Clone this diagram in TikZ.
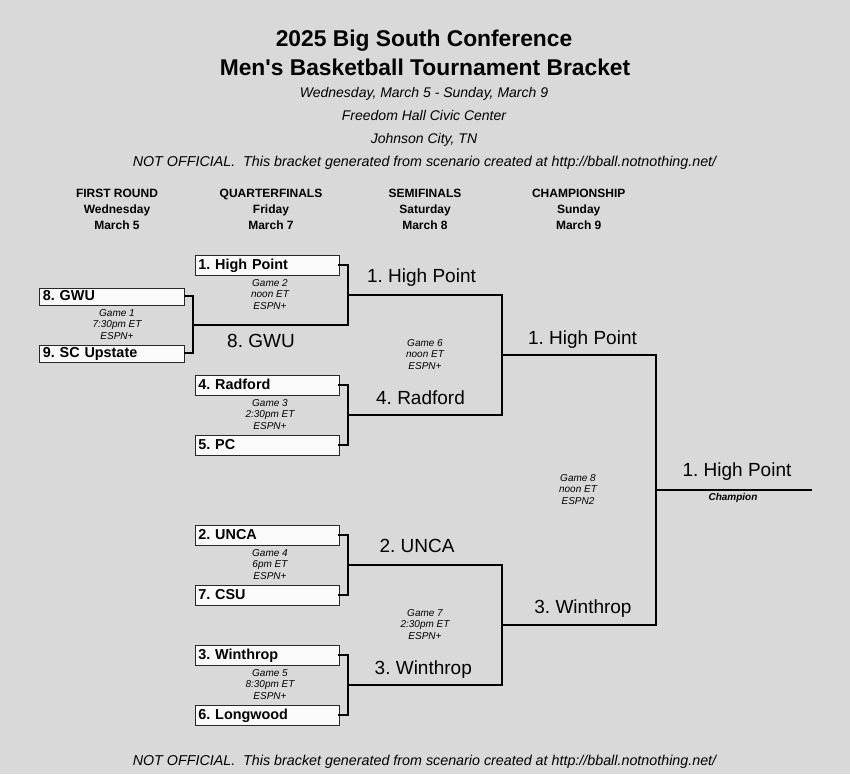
\documentclass[tikz,border=0pt]{standalone}
\usepackage{fontspec}
\setmainfont{Liberation Sans}
\usepackage{tikz}

\definecolor{sheetgray}{RGB}{217,217,217}
\definecolor{boxfill}{RGB}{250,250,250}
\definecolor{boxline}{RGB}{40,40,40}

\newcommand{\teambox}[5][]{%
    \node[seedbox, #1] (#2) at (#3, #4) {#5};%
}
\newcommand{\gamenote}[6]{%
    \node[gametext] (#1) at (#2, #3) {#4\\#5\\#6};%
}
\newcommand{\winner}[4]{%
    \node[winlabel] (#1) at (#2, #3) {#4};%
}

\begin{document}
\frenchspacing
\begin{tikzpicture}[x=1pt, y=-1pt,
    bracket/.style={line width=2pt, line cap=rect},
    seedbox/.style={draw=boxline, fill=boxfill, line width=0.8pt, anchor=north west,
        text width=137pt, inner xsep=3.5pt, inner ysep=0pt, minimum height=20pt,
        text height=11pt, text depth=2pt, align=left,
        font=\fontsize{14.4}{16}\selectfont\bfseries},
    firstbox/.style={text width=138pt, minimum height=17pt},
    gametext/.style={align=center, inner sep=0pt,
        font=\fontsize{10}{11.5}\selectfont\itshape},
    winlabel/.style={anchor=base, inner sep=0pt, font=\fontsize{19}{22}\selectfont},
    headtext/.style={align=center, inner sep=0pt, font=\fontsize{12}{16}\selectfont\bfseries},
    subtext/.style={anchor=base, inner sep=0pt, font=\fontsize{14}{16}\selectfont\itshape},
    notetext/.style={anchor=base, inner sep=0pt, font=\fontsize{14.3}{16}\selectfont\itshape}]

        % Sheet
        \fill[sheetgray] (0, 0) rectangle (850, 774);

        % Titles
        \node[anchor=base, inner sep=0pt, font=\fontsize{22.8}{26}\selectfont\bfseries]
            (title1) at (424, 46) {2025 Big South Conference};
        \node[anchor=base, inner sep=0pt, font=\fontsize{22.8}{26}\selectfont\bfseries]
            (title2) at (425, 75) {Men\textquotesingle s Basketball Tournament Bracket};
        \node[subtext] (dates) at (424, 97) {Wednesday, March 5 - Sunday, March 9};
        \node[subtext] (venue) at (424, 120) {Freedom Hall Civic Center};
        \node[subtext] (city) at (424, 143) {Johnson City, TN};
        \node[notetext] (topnote) at (424.5, 166)
            {NOT OFFICIAL.\ \ This bracket generated from scenario created at http://bball.notnothing.net/};

        % Round headers
        \node[headtext] (hfirst) at (117, 209.7) {FIRST ROUND\\Wednesday\\March 5};
        \node[headtext] (hquarter) at (271, 209.7) {QUARTERFINALS\\Friday\\March 7};
        \node[headtext] (hsemi) at (425, 209.7) {SEMIFINALS\\Saturday\\March 8};
        \node[headtext] (hchamp) at (578.7, 209.7) {CHAMPIONSHIP\\Sunday\\March 9};

        % --- First round ---
        \teambox[firstbox]{gwu}{39}{287.5}{8. GWU}
        \teambox[firstbox]{scu}{39}{344.5}{9. SC Upstate}
        \gamenote{g1}{117}{324.5}{Game 1}{7:30pm ET}{ESPN+}

        % --- Quarterfinals ---
        \teambox{hpu}{194.5}{254.5}{1. High Point}
        \teambox{rad}{194.5}{374.5}{4. Radford}
        \teambox{pc}{194.5}{434.5}{5. PC}
        \teambox{unca}{194.5}{524.5}{2. UNCA}
        \teambox{csu}{194.5}{584.5}{7. CSU}
        \teambox{win}{194.5}{644.5}{3. Winthrop}
        \teambox{lwd}{194.5}{704.5}{6. Longwood}
        \gamenote{g2}{270}{294.5}{Game 2}{noon ET}{ESPN+}
        \gamenote{g3}{270}{414.5}{Game 3}{2:30pm ET}{ESPN+}
        \gamenote{g4}{270}{564.5}{Game 4}{6pm ET}{ESPN+}
        \gamenote{g5}{270}{684.5}{Game 5}{8:30pm ET}{ESPN+}

        % Joins
        \coordinate (j1) at (193, 324.5);
        \coordinate (q1) at (348, 294.5);
        \coordinate (q2) at (348, 414.5);
        \coordinate (q3) at (348, 564.5);
        \coordinate (q4) at (348, 684.5);
        \coordinate (s1) at (502, 354.5);
        \coordinate (s2) at (502, 624.5);
        \coordinate (fin) at (656, 489.5);
        \coordinate (champ) at (811, 489.5);

        % Bracket lines
        \draw[bracket] (gwu.east) -| (j1) |- (scu.east);
        \draw[bracket] (hpu.east) -| (q1) |- (j1);
        \draw[bracket] (rad.east) -| (q2) |- (pc.east);
        \draw[bracket] (unca.east) -| (q3) |- (csu.east);
        \draw[bracket] (win.east) -| (q4) |- (lwd.east);
        \draw[bracket] (q1) -| (s1) |- (q2);
        \draw[bracket] (q3) -| (s2) |- (q4);
        \draw[bracket] (s1) -| (fin) |- (s2);
        \draw[bracket] (fin) -- (champ);

        % --- Winners ---
        \winner{w1}{261}{347}{8. GWU}
        \winner{w2}{421.5}{282}{1. High Point}
        \winner{w3}{420.5}{404}{4. Radford}
        \winner{w4}{417}{552}{2. UNCA}
        \winner{w5}{423.3}{674}{3. Winthrop}
        \winner{w6}{582.5}{344}{1. High Point}
        \winner{w7}{583}{613}{3. Winthrop}
        \winner{w8}{737}{476}{1. High Point}
        \gamenote{g6}{425}{354.5}{Game 6}{noon ET}{ESPN+}
        \gamenote{g7}{425}{624.5}{Game 7}{2:30pm ET}{ESPN+}
        \gamenote{g8}{578}{489.5}{Game 8}{noon ET}{ESPN2}
        \node[anchor=base, inner sep=0pt, font=\fontsize{10}{12}\selectfont\bfseries\itshape]
            (champlabel) at (733, 500) {Champion};

        % Footer
        \node[notetext] (botnote) at (424.5, 765)
            {NOT OFFICIAL.\ \ This bracket generated from scenario created at http://bball.notnothing.net/};

\end{tikzpicture}
\end{document}
